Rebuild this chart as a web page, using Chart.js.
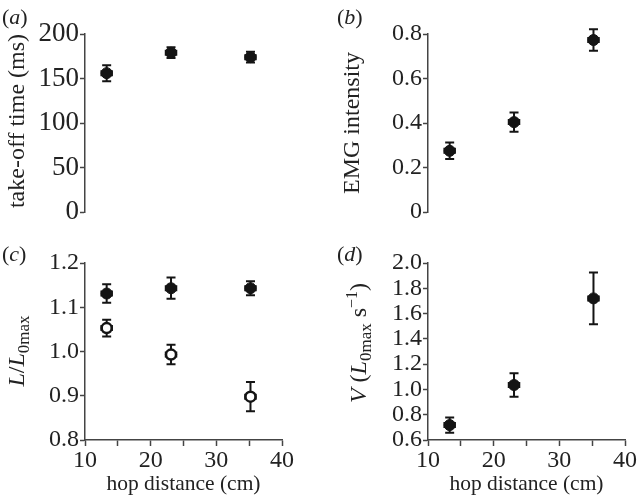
<!DOCTYPE html>
<html>
<head>
<meta charset="utf-8">
<script src="https://cdn.jsdelivr.net/npm/chart.js@4"></script>
<style>
  body { margin: 0; background: #fff; }
  #wrap { position: relative; width: 638px; height: 500px; overflow: hidden; font-family: "Times New Roman", Times, "Liberation Serif", serif; color: #222; }
  canvas { position: absolute; }
  .lbl { position: absolute; font-size: 22px; line-height: 1; white-space: nowrap; }
  .ytitle { position: absolute; font-size: 24px; line-height: 1; white-space: nowrap; transform: translate(-50%, -50%) rotate(-90deg); }
  .ytitle sub { font-size: 17px; vertical-align: -5px; }
  .ytitle sup { font-size: 16px; vertical-align: 9px; }
</style>
</head>
<body>
<div id="wrap">
  <canvas id="chartA" width="319" height="240" style="left:0;top:0"></canvas>
  <canvas id="chartB" width="319" height="240" style="left:319px;top:0"></canvas>
  <canvas id="chartC" width="319" height="260" style="left:0;top:240px"></canvas>
  <canvas id="chartD" width="319" height="260" style="left:319px;top:240px"></canvas>

  <div class="lbl" style="left:2px;top:6px">(<i>a</i>)</div>
  <div class="lbl" style="left:337px;top:6px">(<i>b</i>)</div>
  <div class="lbl" style="left:2px;top:243px">(<i>c</i>)</div>
  <div class="lbl" style="left:337px;top:243px">(<i>d</i>)</div>

  <div class="ytitle" style="left:16px;top:121px">take-off time (ms)</div>
  <div class="ytitle" style="left:351px;top:123px">EMG intensity</div>
  <div class="ytitle" style="left:18px;top:351px"><i>L</i>/<i>L</i><sub>0max</sub></div>
  <div class="ytitle" style="left:359px;top:343px"><i>V</i> (<i>L</i><sub>0max</sub> s<sup>−1</sup>)</div>
</div>

<script>
// hop distance for the three conditions (cm)
const hopDistance = [13.3, 23.1, 35.2];
const hopDistanceErr = [0.8, 0.8, 0.8];

// (a) take-off time (ms)
const takeoffTime = [156, 179, 174];
const takeoffTimeErr = [9, 6, 6];

// (b) EMG intensity
const emgIntensity = [0.275, 0.404, 0.773];
const emgIntensityErr = [0.037, 0.043, 0.048];

// (c) L/L0max, filled and open symbols
const lengthFilled = [1.131, 1.143, 1.143];
const lengthFilledErr = [0.021, 0.024, 0.016];
const lengthOpen = [1.053, 0.993, 0.898];
const lengthOpenErr = [0.019, 0.022, 0.033];

// (d) velocity (L0max s-1)
const velocity = [0.718, 1.035, 1.72];
const velocityErr = [0.06, 0.092, 0.205];

const ink = "#141414";
const axisColor = "#444";

Chart.defaults.font.family = '"Times New Roman", Times, "Liberation Serif", serif';
Chart.defaults.color = "#222";

// draws x and y error bars under the markers
const errorBars = {
  id: "errorBars",
  beforeDatasetsDraw(chart) {
    const { ctx } = chart;
    const x = chart.scales.x;
    const y = chart.scales.y;
    ctx.save();
    ctx.strokeStyle = ink;
    ctx.lineWidth = 2;
    chart.data.datasets.forEach((ds) => {
      ds.data.forEach((p, i) => {
        const px = x.getPixelForValue(p.x);
        const py = y.getPixelForValue(p.y);
        const top = y.getPixelForValue(p.y + ds.yErr[i]);
        const bot = y.getPixelForValue(p.y - ds.yErr[i]);
        const left = x.getPixelForValue(p.x - ds.xErr[i]);
        const right = x.getPixelForValue(p.x + ds.xErr[i]);
        ctx.beginPath();
        ctx.moveTo(px, top); ctx.lineTo(px, bot);
        ctx.moveTo(px - 4.5, top); ctx.lineTo(px + 4.5, top);
        ctx.moveTo(px - 4.5, bot); ctx.lineTo(px + 4.5, bot);
        ctx.moveTo(left, py); ctx.lineTo(right, py);
        ctx.moveTo(left, py - 3); ctx.lineTo(left, py + 3);
        ctx.moveTo(right, py - 3); ctx.lineTo(right, py + 3);
        ctx.stroke();
      });
    });
    ctx.restore();
  },
};

function toPoints(values) {
  return values.map((v, i) => ({ x: hopDistance[i], y: v }));
}

function filledSet(values, errs) {
  return {
    data: toPoints(values),
    yErr: errs,
    xErr: hopDistanceErr,
    pointRadius: 5.5,
    pointBackgroundColor: ink,
    pointBorderColor: ink,
    pointBorderWidth: 1,
  };
}

function openSet(values, errs) {
  return {
    data: toPoints(values),
    yErr: errs,
    xErr: hopDistanceErr,
    pointRadius: 5,
    pointBackgroundColor: "#fff",
    pointBorderColor: ink,
    pointBorderWidth: 2.5,
  };
}

function makeChart(id, datasets, opts) {
  const xScale = {
    type: "linear",
    min: 10,
    max: 40,
    display: opts.showX,
    grid: { drawOnChartArea: false, tickLength: 6, tickColor: axisColor, tickWidth: 1.5 },
    border: { color: axisColor, width: 1.5 },
    ticks: {
      stepSize: 5,
      autoSkip: false,
      font: { size: 24 },
      padding: 0,
      color: "#222",
      maxRotation: 0,
      callback: (v) => (v % 10 === 0 ? v : ""),
    },
    title: {
      display: true,
      text: "hop distance (cm)",
      font: { size: 21.5 },
      color: "#222",
      padding: { top: 0, bottom: 3 },
    },
  };
  if (opts.showX) {
    xScale.afterFit = (s) => { s.height = 60; };
  }
  return new Chart(document.getElementById(id), {
    type: "scatter",
    data: { datasets: datasets },
    options: {
      responsive: false,
      animation: false,
      devicePixelRatio: 1,
      layout: { padding: opts.padding },
      plugins: { legend: { display: false }, tooltip: { enabled: false } },
      scales: {
        x: xScale,
        y: {
          type: "linear",
          min: opts.yMin,
          max: opts.yMax,
          grid: { drawOnChartArea: false, tickLength: 5, tickColor: axisColor, tickWidth: 1.5 },
          border: { color: axisColor, width: 1.5 },
          ticks: {
            stepSize: opts.yStep,
            autoSkip: false,
            font: { size: opts.yFontSize || 24 },
            padding: 1,
            color: "#222",
            callback: opts.yFormat,
          },
          afterFit: (s) => { s.width = opts.yWidth; },
        },
      },
    },
    plugins: [errorBars],
  });
}

makeChart("chartA", [filledSet(takeoffTime, takeoffTimeErr)], {
  yMin: 0, yMax: 200, yStep: 50, yWidth: 85, showX: false, yFontSize: 27,
  yFormat: (v) => v,
  padding: { left: 0, top: 34, right: 37, bottom: 28 },
});

makeChart("chartB", [filledSet(emgIntensity, emgIntensityErr)], {
  yMin: 0, yMax: 0.8, yStep: 0.2, yWidth: 109, showX: false,
  yFormat: (v) => (v === 0 ? "0" : v.toFixed(1)),
  padding: { left: 0, top: 34, right: 13, bottom: 28 },
});

makeChart("chartC", [filledSet(lengthFilled, lengthFilledErr), openSet(lengthOpen, lengthOpenErr)], {
  yMin: 0.8, yMax: 1.2, yStep: 0.1, yWidth: 85, showX: true,
  yFormat: (v) => v.toFixed(1),
  padding: { left: 0, top: 23, right: 37, bottom: 0 },
});

makeChart("chartD", [filledSet(velocity, velocityErr)], {
  yMin: 0.6, yMax: 2.0, yStep: 0.2, yWidth: 109, showX: true,
  yFormat: (v) => v.toFixed(1),
  padding: { left: 0, top: 23, right: 13, bottom: 0 },
});
</script>
</body>
</html>
